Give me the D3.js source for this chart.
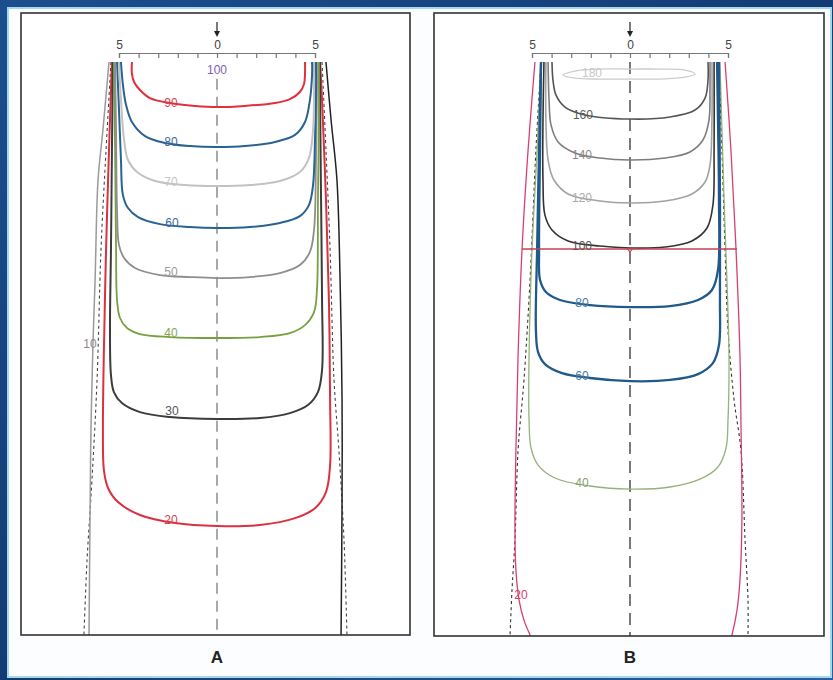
<!DOCTYPE html>
<html>
<head>
<meta charset="utf-8">
<script src="https://cdn.jsdelivr.net/npm/d3@7"></script>
<style>
  html, body { margin: 0; padding: 0; background: #1b4680; }
  svg { display: block; }
</style>
</head>
<body>
<svg id="chart" width="833" height="680"></svg>
<script>
// ---- Lateral ruler (cm from the beam axis) ----
const rulerTicks = [-5, -4, -3, -2, -1, 0, 1, 2, 3, 4, 5];
const rulerLabelValues = [-5, 0, 5];
const panelNames = ["A", "B"];

// ---- Panel A isodose lines: [lateral cm, depth cm] ----
const isoA90 = [[-4.34,0],[-4.34,0.61],[-4.23,1.02],[-3.93,1.43],[-3.42,1.84],[-2.40,2.09],[-1.12,2.24],[0,2.30],[1.43,2.24],[2.96,2.09],[3.72,1.89],[4.23,1.53],[4.44,1.12],[4.49,0.61],[4.49,0]];
const isoA80 = [[-4.90,0],[-4.80,1.17],[-4.64,2.19],[-4.34,3.06],[-3.67,3.78],[-2.65,4.13],[-1.38,4.29],[0,4.34],[1.43,4.29],[2.96,4.08],[3.98,3.72],[4.49,3.06],[4.74,1.94],[4.85,0.66],[4.85,0]];
const isoA70 = [[-5.0,0],[-4.90,1.94],[-4.74,3.98],[-4.54,5.0],[-4.08,5.61],[-3.16,6.07],[-1.63,6.28],[0,6.33],[1.68,6.28],[3.21,6.07],[4.23,5.61],[4.69,4.90],[4.90,3.47],[4.95,1.68],[4.95,0]];
const isoA60 = [[-5.10,0],[-5.0,2.45],[-4.90,5.0],[-4.80,6.79],[-4.54,7.45],[-4.03,7.91],[-2.91,8.27],[-1.38,8.42],[0,8.47],[1.68,8.42],[3.21,8.21],[4.23,7.86],[4.69,7.30],[4.90,6.28],[5.0,3.98],[5.05,1.43],[5.05,0]];
const isoA50 = [[-5.20,0],[-5.15,3.47],[-5.10,7.55],[-5.0,9.34],[-4.74,10.0],[-4.18,10.51],[-2.91,10.87],[-1.38,10.97],[0,11.02],[1.68,10.97],[3.21,10.77],[4.23,10.36],[4.74,9.69],[4.95,8.57],[5.05,5.0],[5.10,1.43],[5.10,0]];
const isoA40 = [[-5.26,0],[-5.20,4.49],[-5.15,9.59],[-5.10,12.14],[-4.95,13.06],[-4.59,13.57],[-3.93,13.88],[-2.40,14.03],[0,14.08],[2.19,14.03],[3.72,13.83],[4.49,13.42],[4.95,12.76],[5.10,11.63],[5.15,7.04],[5.20,2.96],[5.20,0]];
const isoA30 = [[-5.31,0],[-5.36,4.49],[-5.41,9.59],[-5.46,13.67],[-5.41,15.97],[-5.26,16.84],[-4.85,17.40],[-3.93,17.86],[-2.40,18.11],[0,18.21],[2.19,18.16],[3.72,17.91],[4.64,17.50],[5.15,16.84],[5.36,15.71],[5.36,12.14],[5.31,7.04],[5.26,1.94],[5.26,0]];
const isoA20 = [[-5.36,0],[-5.51,4.49],[-5.66,9.59],[-5.77,14.69],[-5.82,18.78],[-5.77,20.82],[-5.56,21.73],[-5.05,22.45],[-3.93,23.11],[-2.14,23.52],[0,23.67],[2.19,23.62],[3.98,23.27],[5.0,22.76],[5.56,21.94],[5.77,20.56],[5.77,17.24],[5.71,12.14],[5.56,7.04],[5.36,1.94],[5.26,0]];
const isoA10Left = [[-5.51,0],[-5.82,3.47],[-6.07,6.02],[-6.22,11.12],[-6.33,14.44],[-6.43,18.78],[-6.48,23.37],[-6.53,29.23]];
const isoA10Right = [[5.56,0],[5.82,2.96],[6.12,6.02],[6.28,11.12],[6.38,17.24],[6.38,22.35],[6.33,29.23]];
const edgeALeft = [[-5.41,0],[-5.66,4.49],[-5.92,9.59],[-6.12,16.22],[-6.38,21.33],[-6.63,25.41],[-6.79,29.23]];
const edgeARight = [[5.36,0],[5.56,4.49],[5.77,9.59],[5.97,16.22],[6.22,19.80],[6.48,24.39],[6.63,29.23]];

// ---- Panel B isodose lines ----
const isoB180 = [[-3.42,0.66],[-2.81,0.46],[-1.53,0.36],[0,0.36],[1.53,0.36],[2.81,0.41],[3.32,0.61],[2.81,0.77],[1.53,0.87],[0,0.87],[-1.53,0.87],[-2.81,0.82]];
const isoB160 = [[-3.98,0],[-3.93,0.92],[-3.78,1.68],[-3.32,2.30],[-2.30,2.70],[0,2.91],[2.04,2.81],[3.32,2.45],[3.83,1.84],[3.98,0.92],[3.98,0]];
const isoB140 = [[-4.18,0],[-4.13,1.94],[-4.03,3.21],[-3.67,4.08],[-2.81,4.64],[-1.53,4.90],[0,5.0],[1.79,4.90],[3.06,4.59],[3.72,3.98],[4.03,2.96],[4.08,1.43],[4.08,0]];
const isoB120 = [[-4.29,0],[-4.29,2.96],[-4.18,5.0],[-3.88,6.02],[-3.16,6.73],[-1.53,7.09],[0,7.19],[1.79,7.09],[3.16,6.73],[3.83,6.12],[4.08,5.26],[4.18,2.96],[4.18,0]];
const isoB100 = [[-4.39,0],[-4.44,2.96],[-4.44,6.02],[-4.34,7.81],[-3.98,8.57],[-3.16,9.13],[-1.53,9.39],[0,9.49],[1.79,9.44],[3.16,9.13],[3.93,8.47],[4.23,7.30],[4.29,4.49],[4.29,0]];
const isoB80 = [[-4.54,0],[-4.59,4.49],[-4.64,9.59],[-4.59,11.12],[-4.29,11.73],[-3.57,12.14],[-2.04,12.40],[0,12.50],[2.04,12.45],[3.47,12.14],[4.18,11.63],[4.49,10.61],[4.54,7.04],[4.49,2.96],[4.44,0]];
const isoB60 = [[-4.54,0],[-4.64,4.49],[-4.74,9.59],[-4.80,13.67],[-4.69,14.80],[-4.34,15.41],[-3.47,15.87],[-2.04,16.12],[0,16.28],[2.04,16.22],[3.47,15.92],[4.23,15.36],[4.54,14.44],[4.59,12.14],[4.59,7.04],[4.54,0]];
const isoB40 = [[-4.54,0],[-4.74,4.49],[-5.0,9.59],[-5.15,14.95],[-5.15,18.27],[-5.05,19.69],[-4.69,20.56],[-3.83,21.22],[-2.04,21.63],[0,21.79],[2.04,21.68],[3.57,21.28],[4.49,20.66],[4.90,19.69],[5.0,18.27],[5.05,14.95],[4.80,7.04],[4.59,0]];
const isoB20 = [[-4.85,0],[-5.20,4.49],[-5.51,9.59],[-5.71,14.95],[-5.82,19.80],[-5.87,23.88],[-5.82,25.92],[-5.66,27.45],[-5.41,28.47],[-5.10,29.23],[-4.74,30.0],[0,30.87],[4.95,30.0],[5.20,29.23],[5.46,27.96],[5.61,26.43],[5.71,23.37],[5.66,18.27],[5.61,14.95],[5.41,9.59],[5.15,4.49],[4.85,0]];
const edgeBLeft = [[-4.54,0],[-4.80,4.49],[-5.10,11.12],[-5.41,16.22],[-5.71,19.80],[-5.87,24.39],[-6.02,26.94],[-6.12,29.23]];
const edgeBRight = [[4.54,0],[4.69,4.49],[4.85,9.59],[5.0,13.67],[5.31,17.24],[5.66,19.80],[5.87,24.39],[6.02,27.45],[6.02,29.23]];
// Reference depth line in B: [depth, from cm, to cm]
const refLineB = [9.54, -5.51, 5.46];

// ---- Isodose labels: [value, lateral cm, depth cm] ----
const labelsA = [[100,0,0.41],[90,-2.35,2.09],[80,-2.35,4.08],[70,-2.35,6.12],[60,-2.30,8.21],[50,-2.35,10.71],[40,-2.35,13.83],[30,-2.30,17.81],[20,-2.35,23.37],[10,-6.48,14.39]];
const labelsB = [[180,-1.94,0.56],[160,-2.40,2.70],[140,-2.45,4.74],[120,-2.45,6.94],[100,-2.45,9.39],[80,-2.45,12.30],[60,-2.45,16.02],[40,-2.45,21.48],[20,-5.56,27.19]];

// ---- Styles ----
const styleA = {
  iso90: {stroke:"#e0303c", w:2}, iso80: {stroke:"#2a6294", w:2}, iso70: {stroke:"#c2c2c2", w:2},
  iso60: {stroke:"#2a6294", w:2}, iso50: {stroke:"#8e8e8e", w:1.8}, iso40: {stroke:"#78a040", w:1.8},
  iso30: {stroke:"#3c3c3c", w:2}, iso20: {stroke:"#dc3040", w:2},
  iso10L: {stroke:"#9a9a9a", w:1.5}, iso10R: {stroke:"#222", w:1.5},
  edge: {stroke:"#444", w:1.1, dash:"3,3"}
};
const labelColorA = {100:"#8060b4",90:"#d84050",80:"#3a6a9c",70:"#c6c6c6",60:"#3a6a9c",50:"#9a9a9a",40:"#86a850",30:"#555",20:"#d84050",10:"#8a8a8a"};
const styleB = {
  iso180: {stroke:"#cccccc", w:1.3}, iso160: {stroke:"#555", w:1.6}, iso140: {stroke:"#7e7e7e", w:1.6},
  iso120: {stroke:"#a2a2a2", w:1.6}, iso100: {stroke:"#333", w:1.6}, iso80: {stroke:"#1f5a8a", w:2.3},
  iso60: {stroke:"#1f5a8a", w:2.3}, iso40: {stroke:"#98b07a", w:1.3}, iso20: {stroke:"#d8406a", w:1.3},
  edge: {stroke:"#333", w:1.1, dash:"3,3"}, ref: {stroke:"#c84050", w:1.4}
};
const labelColorB = {180:"#c8c8c8",160:"#5a5a5a",140:"#8a8a8a",120:"#ababab",100:"#555",80:"#4a7aa4",60:"#4a7aa4",40:"#88a070",20:"#d8406a"};

const W = 833, H = 680;
const svg = d3.select("#chart");
const defs = svg.append("defs");

// Backdrop
const bg = defs.append("linearGradient").attr("id","bg").attr("x1",0).attr("y1",0).attr("x2",1).attr("y2",1);
bg.append("stop").attr("offset","0%").attr("stop-color","#1c4e8e");
bg.append("stop").attr("offset","50%").attr("stop-color","#143c74");
bg.append("stop").attr("offset","100%").attr("stop-color","#2a5ea4");
svg.append("rect").attr("width",W).attr("height",H).attr("fill","url(#bg)");
svg.append("rect").attr("x",8).attr("y",8).attr("width",823).attr("height",669)
  .attr("fill","#fbfdfe").attr("stroke","#a4d8ee").attr("stroke-width",2);

const y = d3.scaleLinear().domain([0, 29.23]).range([62, 635]);
const font = "'Liberation Sans', Arial, sans-serif";

const panels = [
  {
    name: panelNames[0], box: [21, 13, 410, 635], x: d3.scaleLinear().domain([-5,5]).range([119,315]),
    lines: [
      [edgeALeft, styleA.edge], [edgeARight, styleA.edge],
      [isoA10Left, styleA.iso10L], [isoA10Right, styleA.iso10R],
      [isoA20, styleA.iso20], [isoA30, styleA.iso30], [isoA40, styleA.iso40], [isoA50, styleA.iso50],
      [isoA60, styleA.iso60], [isoA70, styleA.iso70], [isoA80, styleA.iso80], [isoA90, styleA.iso90]
    ],
    closed: [],
    labels: labelsA, labelColor: labelColorA,
    axisLine: {stroke:"#a8a8a8", w:2, dash:"11,7", from:0.85},
    ref: null
  },
  {
    name: panelNames[1], box: [434, 13, 824, 636], x: d3.scaleLinear().domain([-5,5]).range([532,728]),
    lines: [
      [edgeBLeft, styleB.edge], [edgeBRight, styleB.edge],
      [isoB20, styleB.iso20], [isoB40, styleB.iso40], [isoB60, styleB.iso60], [isoB80, styleB.iso80],
      [isoB100, styleB.iso100], [isoB120, styleB.iso120], [isoB140, styleB.iso140], [isoB160, styleB.iso160]
    ],
    closed: [[isoB180, styleB.iso180]],
    labels: labelsB, labelColor: labelColorB,
    axisLine: {stroke:"#333", w:1.3, dash:"12,7", from:0},
    ref: refLineB
  }
];

panels.forEach((p, i) => {
  const [x0, y0, x1, y1] = p.box;
  const g = svg.append("g");
  const clipId = "clip" + i;
  defs.append("clipPath").attr("id", clipId).append("rect")
    .attr("x", x0).attr("y", y0).attr("width", x1 - x0).attr("height", y1 - y0);

  g.append("rect").attr("x", x0).attr("y", y0).attr("width", x1 - x0).attr("height", y1 - y0)
    .attr("fill", "#ffffff");

  const plot = g.append("g").attr("clip-path", `url(#${clipId})`);
  const line = d3.line().x(d => p.x(d[0])).y(d => y(d[1])).curve(d3.curveCatmullRom.alpha(0.5));
  const closedLine = d3.line().x(d => p.x(d[0])).y(d => y(d[1])).curve(d3.curveCatmullRomClosed.alpha(0.5));

  // beam axis
  plot.append("line").attr("x1", p.x(0)).attr("x2", p.x(0))
    .attr("y1", y(p.axisLine.from)).attr("y2", y1)
    .attr("stroke", p.axisLine.stroke).attr("stroke-width", p.axisLine.w)
    .attr("stroke-dasharray", p.axisLine.dash);

  p.lines.forEach(([data, s]) => {
    plot.append("path").attr("d", line(data)).attr("fill", "none")
      .attr("stroke", s.stroke).attr("stroke-width", s.w)
      .attr("stroke-dasharray", s.dash || null).attr("stroke-linejoin", "round");
  });
  p.closed.forEach(([data, s]) => {
    plot.append("path").attr("d", closedLine(data)).attr("fill", "none")
      .attr("stroke", s.stroke).attr("stroke-width", s.w);
  });

  if (p.ref) {
    const [d, a, b] = p.ref;
    plot.append("line").attr("x1", p.x(a)).attr("x2", p.x(b)).attr("y1", y(d)).attr("y2", y(d))
      .attr("stroke", styleB.ref.stroke).attr("stroke-width", styleB.ref.w);
    plot.append("path")
      .attr("d", `M${p.x(0) - 3},${y(d) - 1}L${p.x(0)},${y(d) + 3}L${p.x(0) + 3},${y(d) - 1}`)
      .attr("fill", "none").attr("stroke", styleB.ref.stroke).attr("stroke-width", 1.2);
  }

  // isodose values
  plot.selectAll("text.lbl").data(p.labels).join("text").attr("class", "lbl")
    .attr("x", d => p.x(d[1])).attr("y", d => y(d[2]))
    .attr("text-anchor", "middle").attr("dominant-baseline", "central")
    .attr("font-family", font).attr("font-size", 12)
    .attr("fill", d => p.labelColor[d[0]])
    .text(d => d[0]);

  // frame
  g.append("rect").attr("x", x0).attr("y", y0).attr("width", x1 - x0).attr("height", y1 - y0)
    .attr("fill", "none").attr("stroke", "#333").attr("stroke-width", 1.6);

  // lateral ruler with ticks hanging below
  const axis = d3.axisTop(p.x).tickValues(rulerTicks).tickSizeInner(-5).tickSizeOuter(-5).tickPadding(4)
    .tickFormat(v => rulerLabelValues.includes(v) ? String(Math.abs(v)) : "");
  const ax = g.append("g").attr("transform", "translate(0,53)").call(axis);
  ax.select(".domain").attr("stroke", "#777").attr("stroke-width", 1.2);
  ax.selectAll(".tick line").attr("stroke", "#777").attr("stroke-width", 1.2);
  ax.selectAll(".tick text").attr("font-family", font).attr("font-size", 12).attr("fill", "#444");

  // beam direction arrow
  const cx = p.x(0);
  g.append("line").attr("x1", cx).attr("x2", cx).attr("y1", 22).attr("y2", 32)
    .attr("stroke", "#222").attr("stroke-width", 1.2);
  g.append("path").attr("d", `M${cx - 3},31L${cx + 3},31L${cx},37Z`).attr("fill", "#222");

  // panel letter
  g.append("text").attr("x", cx).attr("y", 663).attr("text-anchor", "middle")
    .attr("font-family", font).attr("font-weight", "bold").attr("font-size", 17)
    .attr("fill", "#222").text(p.name);
});
</script>
</body>
</html>
